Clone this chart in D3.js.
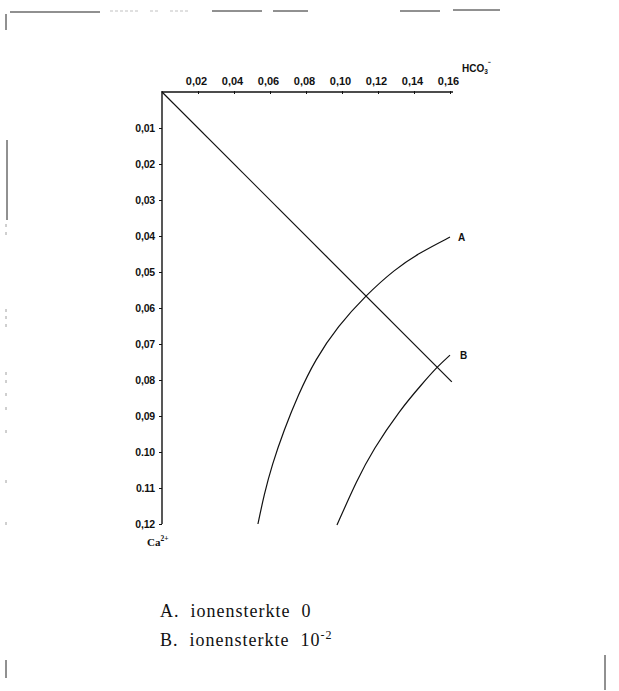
<!DOCTYPE html>
<html><head><meta charset="utf-8">
<script src="https://cdn.jsdelivr.net/npm/d3@7/dist/d3.min.js"></script>
<style>
html,body{margin:0;padding:0;background:#fff;}
svg{display:block;}
.ax text{font-family:"Liberation Sans",Arial,sans-serif;font-weight:bold;font-size:10.5px;fill:#111;letter-spacing:-0.2px;}
</style></head><body>
<script>
// ---- data ----
const hcoTicks = [0.02,0.04,0.06,0.08,0.10,0.12,0.14,0.16];
const hcoTickLabels = ["0,02","0,04","0,06","0,08","0,10","0,12","0,14","0,16"];
const caTicks = [0.01,0.02,0.03,0.04,0.05,0.06,0.07,0.08,0.09,0.10,0.11,0.12];
const caTickLabels = ["0,01","0,02","0,03","0,04","0,05","0,06","0,07","0,08","0,09","0.10","0.11","0,12"];
// diagonal: [HCO3, Ca]
const diagonal = [[0,0],[0.161,0.0805]];
// curve A (ionensterkte 0): [HCO3, Ca]
const curveA = [[0.1600,0.0403],[0.1433,0.0446],[0.1294,0.0492],[0.1128,0.0567],[0.0978,0.0650],[0.0850,0.0744],[0.0756,0.0842],[0.0678,0.0939],[0.0611,0.1036],[0.0567,0.1119],[0.0533,0.1200]];
// curve B (ionensterkte 10^-2)
const curveB = [[0.160,0.0731],[0.1528,0.0764],[0.145,0.0808],[0.1322,0.0883],[0.1172,0.0994],[0.1083,0.1078],[0.0972,0.1203]];
const curveLabels = ["A","B"];
const legend = [["A.  ionensterkte  0",""],["B.  ionensterkte  10","-2"]];

(function(){
const W=619,H=691;
const svg=d3.select("body").append("svg").attr("width",W).attr("height",H);
svg.append("rect").attr("width",W).attr("height",H).attr("fill","#fff");

// scan border fragments
const g0=svg.append("g").attr("stroke","#222").attr("fill","none");
[[10,12,100,12,1.2],[212,11,262,11,1],[273,11,308,11,1],[400,11,440,11,1],[453,10,500,10,1]].forEach(d=>g0.append("line").attr("x1",d[0]).attr("y1",d[1]).attr("x2",d[2]).attr("y2",d[3]).attr("stroke-width",d[4]));
[[110,11,140,11],[150,11,160,11],[170,11,188,11]].forEach(d=>g0.append("line").attr("x1",d[0]).attr("y1",d[1]).attr("x2",d[2]).attr("y2",d[3]).attr("stroke-width",0.6).attr("stroke","#999").attr("stroke-dasharray","3,2"));
[[6,14,6,30],[7,140,7,220],[6,660,6,678],[605,655,605,690]].forEach(d=>g0.append("line").attr("x1",d[0]).attr("y1",d[1]).attr("x2",d[2]).attr("y2",d[3]).attr("stroke-width",1));
[224,232,309,316,324,372,380,393,407,430,480,522].forEach(yy=>g0.append("line").attr("x1",6).attr("x2",6).attr("y1",yy).attr("y2",yy+3).attr("stroke","#888").attr("stroke-width",0.8));

const x=d3.scaleLinear().domain([0,0.16]).range([162,450]);
const y=d3.scaleLinear().domain([0,0.12]).range([92,524]);

// top axis
const topAx=svg.append("g").attr("class","ax").attr("transform","translate(0,92)")
 .call(d3.axisTop(x).tickValues(hcoTicks).tickSize(3).tickSizeOuter(0).tickPadding(4).tickFormat((d,i)=>hcoTickLabels[i]));
topAx.select(".domain").attr("stroke","#111").attr("stroke-width",1.3).attr("d","M162,0H453");
topAx.selectAll(".tick line").attr("stroke","#111").attr("y2",2).attr("y1",-1);
topAx.selectAll(".tick text").attr("dx",-2).style("font-size","11px").style("letter-spacing","0px");

// left axis
const leftAx=svg.append("g").attr("class","ax").attr("transform","translate(162,0)")
 .call(d3.axisLeft(y).tickValues(caTicks).tickSize(3).tickSizeOuter(0).tickPadding(4).tickFormat((d,i)=>caTickLabels[i]));
leftAx.select(".domain").attr("stroke","#111").attr("stroke-width",1.4).attr("d","M0,91V524");
leftAx.selectAll(".tick line").attr("stroke","#111");

// axis titles
const hco=svg.append("text").attr("x",462).attr("y",72).attr("font-family","Liberation Sans,Arial,sans-serif").attr("font-weight","bold").attr("font-size",10).attr("fill","#111");
hco.append("tspan").text("HCO");
hco.append("tspan").attr("font-size",6.5).attr("dy",2).text("3");
hco.append("tspan").attr("font-size",8).attr("dy",-7).text("⁻");
const ca=svg.append("text").attr("x",147).attr("y",546).attr("font-family","Liberation Serif,Times New Roman,serif").attr("font-weight","bold").attr("font-size",11).attr("fill","#111");
ca.append("tspan").text("Ca");
ca.append("tspan").attr("font-size",7.5).attr("dy",-5).text("2+");

const line=d3.line().x(d=>x(d[0])).y(d=>y(d[1]));
const cline=d3.line().x(d=>x(d[0])).y(d=>y(d[1])).curve(d3.curveBasis);
svg.append("path").attr("d",line(diagonal)).attr("fill","none").attr("stroke","#111").attr("stroke-width",1.2);
[curveA,curveB].forEach(c=>svg.append("path").attr("d",cline(c)).attr("fill","none").attr("stroke","#111").attr("stroke-width",1.2));
[curveA,curveB].forEach((c,i)=>svg.append("text").attr("x",x(c[0][0])+8+i*2).attr("y",y(c[0][1])+4)
  .attr("font-family","Liberation Sans,Arial,sans-serif").attr("font-weight","bold").attr("font-size",10).attr("fill","#111").text(curveLabels[i]));

// legend
legend.forEach((l,i)=>{
  const t=svg.append("text").attr("x",160).attr("y",617+i*29).attr("font-family","Liberation Serif,Times New Roman,serif")
    .attr("font-size",18).attr("letter-spacing",1).attr("fill","#111").attr("xml:space","preserve").style("white-space","pre");
  t.append("tspan").text(l[0]);
  if(l[1]) t.append("tspan").attr("font-size",12).attr("dy",-7).text(l[1]);
});
})();
</script>
</body></html>
